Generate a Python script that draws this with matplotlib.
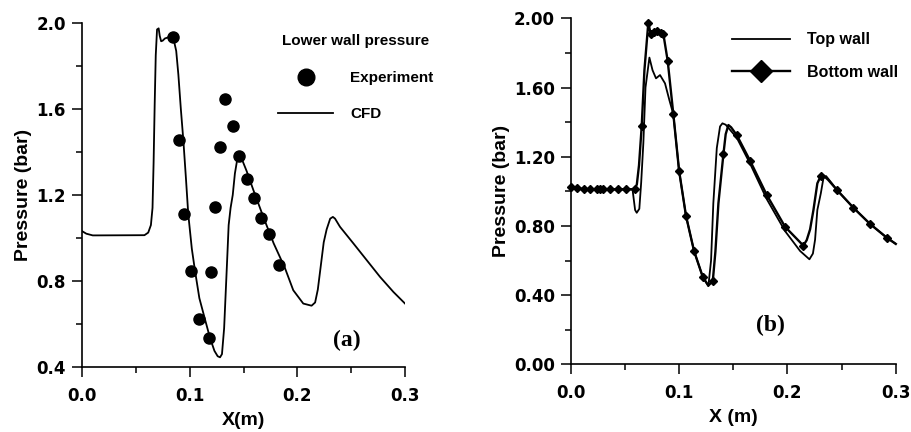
import matplotlib
matplotlib.use('Agg')
import matplotlib.pyplot as plt
from matplotlib.ticker import MultipleLocator, FormatStrFormatter

plt.rcParams['font.family'] = ['Liberation Sans', 'DejaVu Sans']
plt.rcParams['font.weight'] = 'bold'

# panel (a): lower wall pressure, experiment vs CFD
exp_x = [0.0846, 0.0899, 0.0948, 0.1016, 0.1088, 0.1175, 0.1199, 0.1233, 0.1280,
         0.1326, 0.1404, 0.1460, 0.1528, 0.1596, 0.1658, 0.1739, 0.1832]
exp_p = [1.933, 1.456, 1.110, 0.846, 0.622, 0.535, 0.840, 1.146, 1.425,
         1.647, 1.521, 1.381, 1.274, 1.184, 1.091, 1.017, 0.874]

cfd_x = [0.000, 0.004, 0.010, 0.058, 0.0615, 0.0640, 0.0655, 0.0665, 0.0675, 0.0685,
         0.0697, 0.0712, 0.0722, 0.0735, 0.0750, 0.0770, 0.0800, 0.0830, 0.0855, 0.0875,
         0.0895, 0.0918, 0.0941, 0.0965, 0.0987, 0.1020, 0.1050, 0.1090, 0.1142, 0.1189,
         0.1230, 0.1260, 0.1282, 0.1300, 0.1320, 0.1335, 0.1350, 0.1362, 0.1380, 0.1400,
         0.1420, 0.1440, 0.1461, 0.1490, 0.1530, 0.1590, 0.1690, 0.1780, 0.1885, 0.1962,
         0.2055, 0.2132, 0.2165, 0.2190, 0.2215, 0.2245, 0.2272, 0.2305, 0.2330, 0.2350,
         0.2396, 0.2520, 0.2644, 0.2768, 0.2892, 0.3000]
cfd_p = [1.032, 1.020, 1.012, 1.013, 1.025, 1.06, 1.14, 1.35, 1.62, 1.85,
         1.970, 1.975, 1.940, 1.915, 1.918, 1.928, 1.933, 1.935, 1.915, 1.87,
         1.76, 1.60, 1.456, 1.28, 1.11, 0.95, 0.846, 0.72, 0.622, 0.535,
         0.475, 0.450, 0.445, 0.46, 0.58, 0.75, 0.92, 1.06, 1.14, 1.20,
         1.30, 1.36, 1.385, 1.36, 1.31, 1.225, 1.09, 0.975, 0.860, 0.757,
         0.695, 0.685, 0.70, 0.76, 0.86, 0.98, 1.04, 1.09, 1.098, 1.09,
         1.052, 0.975, 0.897, 0.819, 0.749, 0.695]

# panel (b): top and bottom wall pressure
top_x = [0.000, 0.006, 0.012, 0.057, 0.0594, 0.0609, 0.0633, 0.065, 0.067, 0.069,
         0.0726, 0.0755, 0.0787, 0.0824, 0.087, 0.091, 0.0947, 0.100, 0.1064, 0.1138,
         0.1218, 0.127, 0.1295, 0.1316, 0.1348, 0.1378, 0.140, 0.143, 0.1532, 0.1655,
         0.1809, 0.1978, 0.2117, 0.2203, 0.2235, 0.2255, 0.2276, 0.2308, 0.2332, 0.2357,
         0.241, 0.2461, 0.2609, 0.2763, 0.2917, 0.300]
top_p = [1.025, 1.018, 1.012, 1.012, 0.892, 0.876, 0.899, 1.05, 1.277, 1.60,
         1.773, 1.70, 1.653, 1.672, 1.624, 1.528, 1.445, 1.119, 0.857, 0.655,
         0.506, 0.452, 0.60, 0.931, 1.25, 1.375, 1.393, 1.385, 1.31, 1.16,
         0.955, 0.77, 0.655, 0.607, 0.64, 0.72, 0.892, 0.988, 1.075, 1.088,
         1.046, 1.005, 0.905, 0.811, 0.732, 0.696]

bottom_x = [0.000, 0.006, 0.012, 0.018, 0.024, 0.027, 0.030, 0.036, 0.044, 0.051,
            0.059, 0.061, 0.063, 0.0655, 0.068, 0.0716, 0.0738, 0.0769, 0.080, 0.0831,
            0.0855, 0.0895, 0.0947, 0.100, 0.1064, 0.1138, 0.1218, 0.127, 0.1311, 0.1335,
            0.1363, 0.1409, 0.1430, 0.1455, 0.148, 0.1532, 0.1655, 0.1809, 0.1978, 0.2147,
            0.2178, 0.2209, 0.2240, 0.2276, 0.2307, 0.2335, 0.2378, 0.2461, 0.2609, 0.2763,
            0.2917, 0.300]
bottom_p = [1.025, 1.018, 1.012, 1.012, 1.012, 1.012, 1.012, 1.012, 1.012, 1.012,
            1.012, 1.04, 1.15, 1.377, 1.70, 1.975, 1.909, 1.922, 1.928, 1.917,
            1.909, 1.753, 1.445, 1.119, 0.857, 0.655, 0.506, 0.455, 0.481, 0.65,
            0.931, 1.214, 1.33, 1.383, 1.37, 1.325, 1.177, 0.979, 0.795, 0.686,
            0.718, 0.78, 0.892, 1.046, 1.088, 1.09, 1.065, 1.005, 0.905, 0.811,
            0.732, 0.696]
# indices of bottom wall points drawn with a diamond
bottom_marks = list(range(0, 11)) + [13] + list(range(15, 27)) + [28, 31] + \
    list(range(35, 40)) + [44] + list(range(47, 51))


def style_axes(ax, ymin, ymax, ymajor, yfmt):
    for side in ['top', 'right']:
        ax.spines[side].set_visible(False)
    for side in ['left', 'bottom']:
        ax.spines[side].set_linewidth(1.2)
    ax.set_xlim(0, 0.3)
    ax.set_ylim(ymin, ymax)
    ax.xaxis.set_major_locator(MultipleLocator(0.1))
    ax.xaxis.set_minor_locator(MultipleLocator(0.05))
    ax.yaxis.set_major_locator(MultipleLocator(ymajor))
    ax.yaxis.set_minor_locator(MultipleLocator(ymajor / 2))
    ax.xaxis.set_major_formatter(FormatStrFormatter('%.1f'))
    ax.yaxis.set_major_formatter(FormatStrFormatter(yfmt))
    ax.tick_params(which='major', direction='out', length=7.5, width=1.1, labelsize=12, pad=4)
    ax.tick_params(which='minor', direction='out', length=4.5, width=1.1)
    ax.tick_params(axis='x', which='major', pad=7)
    for lab in ax.get_xticklabels() + ax.get_yticklabels():
        lab.set_family('DejaVu Sans')
        lab.set_fontweight('bold')


fig = plt.figure(figsize=(9.11, 4.32), dpi=100)
ax1 = fig.add_axes([0.0900, 0.1505, 0.3546, 0.7963])
ax2 = fig.add_axes([0.6265, 0.1567, 0.3568, 0.8009])

ax1.plot(exp_x, exp_p, 'o', color='black', markersize=8, label='Experiment')
ax1.plot(cfd_x, cfd_p, '-', color='black', linewidth=1.3, label='CFD')
style_axes(ax1, 0.4, 2.0, 0.4, '%.1f')
ax1.set_xlabel('X(m)', fontsize=14, fontweight='bold', labelpad=5)
ax1.set_ylabel('Pressure (bar)', fontsize=14, fontweight='bold', labelpad=3)
leg1 = ax1.legend(title='Lower wall pressure', frameon=False, fontsize=11, markerscale=1.5,
                  handlelength=3.6, handletextpad=1.1, labelspacing=1.45,
                  loc='upper left', bbox_to_anchor=(0.297, 0.94),
                  bbox_transform=fig.transFigure, borderpad=0)
leg1.get_title().set_fontweight('bold')
leg1.get_title().set_fontsize(11)
leg1._legend_box.sep = 17
ax1.text(0.82, 0.078, '(a)', transform=ax1.transAxes, ha='center', va='center',
         fontsize=17, fontweight='bold', family='Liberation Serif')

ax2.plot(top_x, top_p, '-', color='black', linewidth=1.3, label='Top wall')
ax2.plot(bottom_x, bottom_p, '-', color='black', linewidth=1.7, marker='D', markersize=4.5,
         markevery=bottom_marks, clip_on=False, label='Bottom wall')
style_axes(ax2, 0.0, 2.0, 0.4, '%.2f')
ax2.set_xlabel('X (m)', fontsize=14, fontweight='bold', labelpad=5)
ax2.set_ylabel('Pressure (bar)', fontsize=14, fontweight='bold', labelpad=3)
ax2.legend(frameon=False, fontsize=11.5, markerscale=2.5, handlelength=3.6,
           handletextpad=1.05, labelspacing=1.1, loc='upper left',
           bbox_to_anchor=(0.795, 0.944), bbox_transform=fig.transFigure, borderpad=0)
ax2.text(0.615, 0.111, '(b)', transform=ax2.transAxes, ha='center', va='center',
         fontsize=17, fontweight='bold', family='Liberation Serif')

fig.savefig('out.png', dpi=100)
